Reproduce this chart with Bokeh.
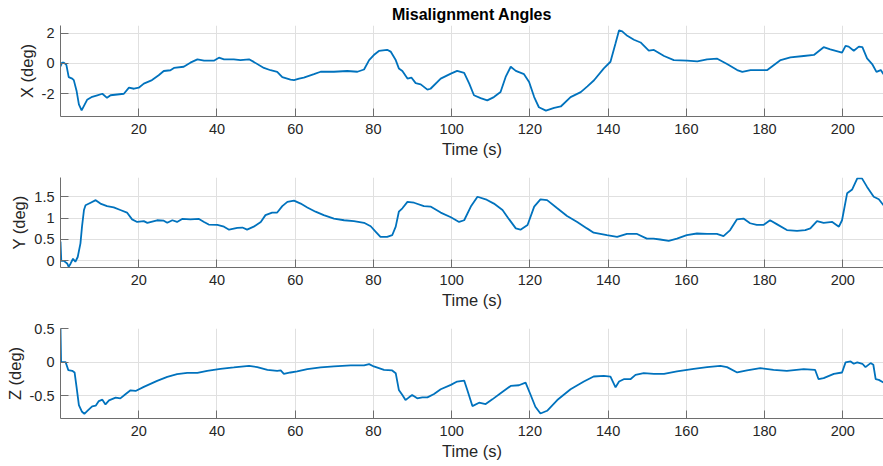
from bokeh.plotting import figure
from bokeh.layouts import column
from bokeh.models import FixedTicker, CustomJSTickFormatter, Range1d
from bokeh.embed import file_html
from bokeh.resources import INLINE

# ---- data ----
t_x = [0, 0.4, 0.85, 1.5, 2.1, 3.0, 3.4, 4.1, 4.7, 5.4, 6.0, 6.8, 8.1, 9.4, 10.7, 11.9, 12.8, 14.5, 16.2, 17.5,
       18.8, 20.0, 21.3, 23.4, 25.1, 26.4, 28.1, 29.0, 31.5, 33.2, 35.0, 36.7, 39.2, 40.5, 41.8, 44.3, 46.0, 48.2,
       49.4, 52.0, 53.7, 55.4, 56.7, 58.8, 59.7, 61.0, 62.2, 64.8, 66.5, 69.9, 73.3, 75.9, 77.6, 78.9, 80.1, 81.4,
       83.5, 84.4, 85.7, 86.5, 87.4, 88.7, 89.7, 90.8, 92.1, 93.8, 94.6, 97.2, 99.8, 101.4, 103.2, 104.5, 105.7,
       107.4, 109.1, 110.8, 112.5, 113.8, 115.1, 116.4, 118.5, 119.8, 121.1, 122.3, 124.1, 126.2, 127.9, 130.4,
       133.0, 134.7, 136.4, 138.9, 140.6, 141.9, 142.8, 143.6, 144.9, 146.6, 148.3, 150.4, 151.7, 154.3, 156.8,
       160.2, 162.8, 165.3, 167.9, 170.4, 173.0, 174.3, 176.4, 180.7, 184.1, 186.6, 190.0, 192.6, 195.1, 196.8,
       199.8, 200.7, 201.5, 202.8, 204.1, 205.0, 206.2, 207.5, 208.6, 209.7, 210.4]
x_deg = [-0.2, 0.05, 0.05, -0.1, -0.9, -1.0, -1.1, -1.8, -2.7, -3.1, -2.8, -2.4, -2.2, -2.1, -2.0, -2.27, -2.1,
         -2.05, -2.0, -1.6, -1.67, -1.6, -1.33, -1.1, -0.78, -0.5, -0.45, -0.3, -0.22, 0.05, 0.27, 0.18, 0.18,
         0.38, 0.27, 0.27, 0.22, 0.27, 0.1, -0.3, -0.45, -0.55, -0.9, -1.07, -1.1, -1.0, -0.93, -0.71, -0.55,
         -0.55, -0.5, -0.55, -0.4, 0.22, 0.55, 0.82, 0.9, 0.78, 0.22, -0.33, -0.5, -1.0, -0.93, -1.3, -1.38,
         -1.73, -1.67, -1.0, -0.67, -0.49, -0.62, -1.33, -2.1, -2.29, -2.44, -2.22, -1.89, -0.89, -0.22, -0.49,
         -0.71, -1.22, -2.22, -2.89, -3.11, -2.93, -2.84, -2.22, -1.89, -1.51, -1.11, -0.33, 0.11, 1.33, 2.18,
         2.11, 1.82, 1.56, 1.38, 0.84, 0.89, 0.49, 0.22, 0.18, 0.13, 0.27, 0.31, -0.04, -0.44, -0.56, -0.44,
         -0.44, 0.22, 0.4, 0.49, 0.56, 1.07, 0.93, 0.71, 1.16, 1.11, 0.84, 1.11, 1.07, 0.33, -0.04, -0.56,
         -0.44, -0.71]

t_y = [0, 0.2, 0.85, 1.7, 2.1, 2.6, 3.2, 3.8, 4.4, 5.1, 5.5, 6.0, 6.4, 7.7, 9.0, 10.2, 11.9, 13.6, 15.3, 17.0,
       18.3, 19.6, 21.3, 22.2, 24.7, 26.4, 27.3, 28.6, 29.8, 31.1, 33.2, 35.4, 36.7, 37.9, 40.1, 41.8, 43.1, 45.2,
       46.5, 47.7, 49.4, 51.2, 52.4, 54.1, 55.4, 56.7, 58.0, 59.7, 61.4, 63.1, 65.2, 67.3, 69.9, 72.5, 75.0, 77.6,
       79.3, 80.6, 81.8, 83.5, 84.8, 85.7, 86.5, 87.4, 88.7, 90.4, 92.9, 94.6, 97.2, 99.8, 101.9, 103.2, 104.9,
       106.6, 108.7, 110.8, 113.0, 114.7, 116.4, 117.6, 119.4, 121.1, 122.7, 124.4, 127.0, 129.5, 132.1, 134.6,
       136.3, 139.7, 142.3, 144.8, 147.4, 149.9, 151.6, 153.3, 155.5, 157.6, 160.1, 162.7, 165.3, 167.8, 169.5,
       171.2, 172.9, 174.6, 176.3, 178.0, 179.7, 181.4, 183.1, 185.7, 188.3, 190.4, 191.7, 193.4, 195.1, 197.3,
       199.0, 199.8, 201.1, 202.4, 203.7, 204.9, 206.2, 207.9, 209.2, 210.4]
y_deg = [0.45, 0.0, 0.0, -0.06, -0.14, -0.06, 0.05, -0.02, 0.09, 0.41, 0.8, 1.19, 1.3, 1.36, 1.42, 1.34, 1.28,
         1.25, 1.19, 1.13, 0.97, 0.91, 0.93, 0.89, 0.95, 0.94, 0.89, 0.95, 0.91, 0.98, 0.97, 0.98, 0.91, 0.85,
         0.84, 0.8, 0.73, 0.77, 0.78, 0.73, 0.8, 0.91, 1.07, 1.13, 1.13, 1.28, 1.38, 1.41, 1.34, 1.25, 1.15,
         1.07, 0.99, 0.95, 0.93, 0.89, 0.81, 0.68, 0.56, 0.56, 0.6, 0.8, 1.15, 1.23, 1.38, 1.36, 1.28, 1.27,
         1.13, 1.02, 0.91, 0.95, 1.27, 1.5, 1.44, 1.34, 1.19, 0.97, 0.76, 0.73, 0.84, 1.27, 1.44, 1.42, 1.23,
         1.05, 0.91, 0.76, 0.66, 0.6, 0.56, 0.63, 0.63, 0.52, 0.52, 0.5, 0.47, 0.52, 0.6, 0.64, 0.63, 0.63,
         0.58, 0.72, 0.97, 0.99, 0.88, 0.84, 0.84, 0.95, 0.86, 0.72, 0.7, 0.72, 0.76, 0.93, 0.89, 0.91, 0.8,
         0.95, 1.58, 1.67, 1.93, 1.93, 1.73, 1.5, 1.44, 1.3]

t_z = [0, 0.15, 0.4, 1.3, 2.0, 3.0, 3.6, 4.1, 4.7, 5.5, 6.1, 7.0, 8.1, 9.0, 9.8, 10.7, 11.5, 12.4, 14.1, 15.3,
       16.6, 17.9, 19.2, 21.3, 24.7, 27.3, 29.8, 32.4, 35.0, 37.5, 40.9, 44.3, 48.2, 50.3, 52.9, 55.4, 56.3, 57.1,
       58.8, 60.5, 63.1, 66.5, 69.9, 74.2, 77.6, 78.9, 80.1, 82.7, 84.8, 85.7, 86.5, 87.4, 88.2, 89.1, 89.9, 91.2,
       92.5, 93.8, 95.5, 97.2, 99.8, 101.4, 103.2, 104.0, 105.3, 107.0, 108.7, 110.4, 112.5, 115.1, 117.2, 118.9,
       120.2, 121.4, 122.7, 124.4, 127.0, 130.4, 133.8, 136.3, 138.9, 140.6, 141.9, 142.8, 144.0, 145.7, 147.0,
       149.1, 151.7, 154.3, 157.6, 161.9, 165.3, 168.7, 170.4, 173.0, 175.5, 178.9, 182.3, 185.7, 190.0, 192.9,
       193.8, 195.1, 197.7, 199.8, 200.7, 202.0, 202.8, 203.7, 205.0, 205.8, 207.1, 207.8, 208.4, 209.2, 210.4]
z_deg = [0.5, 0.0, 0.0, 0.0, -0.12, -0.13, -0.155, -0.37, -0.64, -0.74, -0.77, -0.72, -0.66, -0.65, -0.58, -0.56,
         -0.63, -0.57, -0.53, -0.54, -0.48, -0.42, -0.43, -0.37, -0.28, -0.22, -0.18, -0.16, -0.16, -0.13, -0.1,
         -0.08, -0.055, -0.075, -0.115, -0.13, -0.125, -0.175, -0.155, -0.14, -0.105, -0.08, -0.065, -0.05,
         -0.05, -0.03, -0.065, -0.115, -0.125, -0.165, -0.415, -0.49, -0.565, -0.525, -0.49, -0.54, -0.525,
         -0.525, -0.475, -0.405, -0.34, -0.29, -0.275, -0.415, -0.655, -0.605, -0.625, -0.555, -0.465, -0.355,
         -0.345, -0.305, -0.49, -0.665, -0.765, -0.725, -0.565, -0.405, -0.29, -0.215, -0.205, -0.215, -0.375,
         -0.29, -0.255, -0.255, -0.19, -0.165, -0.175, -0.175, -0.14, -0.1, -0.075, -0.055, -0.075, -0.155,
         -0.125, -0.09, -0.115, -0.13, -0.105, -0.115, -0.255, -0.24, -0.175, -0.155, -0.005, 0.01, -0.025,
         -0.005, -0.025, -0.075, -0.015, -0.04, -0.255, -0.265, -0.305]

x_ticks = [20, 40, 60, 80, 100, 120, 140, 160, 180, 200]
x_limits = (0, 210.4)
yticks_x = [-2, 0, 2]
yticks_y = [0, 0.5, 1, 1.5]
yticks_z = [-0.5, 0, 0.5]
ylim_x = (-3.5, 2.5)
ylim_y = (-0.155, 1.95)
ylim_z = (-0.84, 0.5)

FONT = "Liberation Sans"
TXT = "#262626"
AX = "#6e6e6e"
GRID = "#e0e0e0"
LINE = "#0072BD"


def make(t, v, ylabel, ylim, yticks, top, bottom, fh, title=None):
    kw = {}
    if title:
        kw["title"] = title
    p = figure(frame_width=823, frame_height=fh,
               x_range=Range1d(*x_limits), y_range=Range1d(*ylim),
               output_backend="svg", toolbar_location=None,
               min_border_left=60, min_border_right=0,
               min_border_top=top, min_border_bottom=bottom, **kw)
    p.outline_line_color = None
    p.background_fill_color = "white"
    p.border_fill_color = "white"
    p.line(t, v, line_color=LINE, line_width=1.8)
    fmt = CustomJSTickFormatter(code="return String(tick)")
    p.xaxis.ticker = FixedTicker(ticks=x_ticks)
    p.yaxis.ticker = FixedTicker(ticks=yticks)
    p.xaxis.formatter = fmt
    p.yaxis.formatter = fmt
    p.xaxis.axis_label = "Time (s)"
    p.yaxis.axis_label = ylabel
    for ax in (p.xaxis, p.yaxis):
        ax.axis_line_color = AX
        ax.major_tick_line_color = AX
        ax.major_tick_in = 8
        ax.major_tick_out = 0
        ax.minor_tick_line_color = None
        ax.major_label_text_font = FONT
        ax.major_label_text_font_size = "14.5px"
        ax.major_label_text_color = TXT
        ax.axis_label_text_font = FONT
        ax.axis_label_text_font_size = "16.5px"
        ax.axis_label_text_font_style = "normal"
        ax.axis_label_text_color = TXT
        ax.axis_label_standoff = 3
    p.xaxis.major_label_standoff = 7
    p.yaxis.major_label_standoff = 6
    p.xgrid.grid_line_color = GRID
    p.ygrid.grid_line_color = GRID
    if title:
        p.title.align = "center"
        p.title.text_font = FONT
        p.title.text_font_size = "16px"
        p.title.text_font_style = "bold"
        p.title.text_color = "black"
        p.title.standoff = 5
        p.title.offset = 5
    return p


p1 = make(t_x, x_deg, "X (deg)", ylim_x, yticks_x, 25, 46, 91, title="Misalignment Angles")
p2 = make(t_y, y_deg, "Y (deg)", ylim_y, yticks_y, 15, 46, 90)
p3 = make(t_z, z_deg, "Z (deg)", ylim_z, yticks_z, 15, 48, 90)

p = column(p1, p2, p3, spacing=0)
open("out.html", "w").write(file_html(p, INLINE))
